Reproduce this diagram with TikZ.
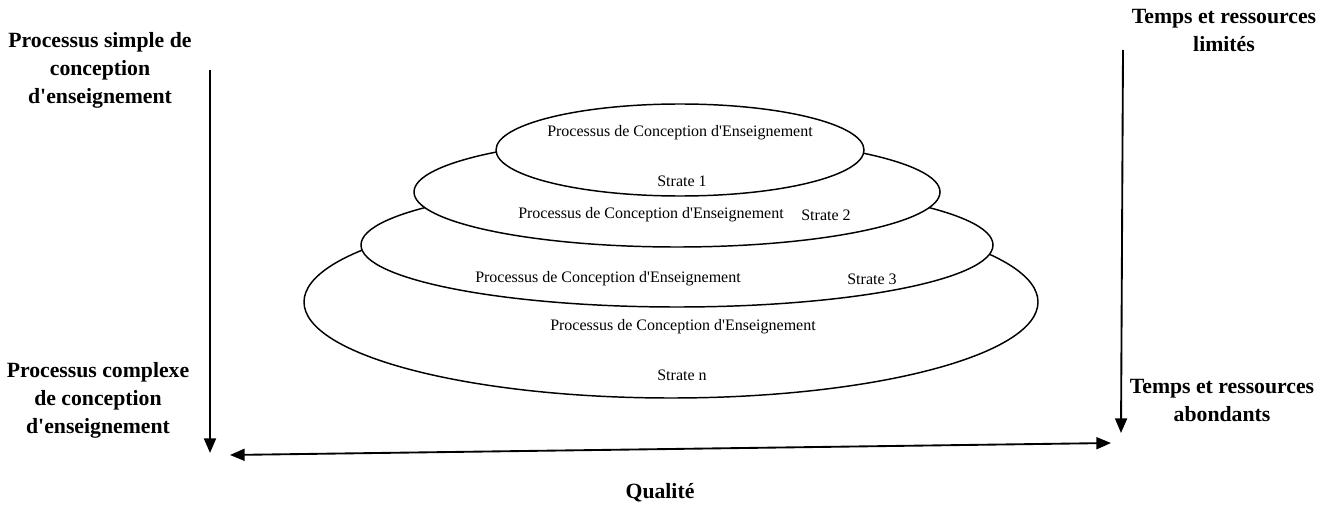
\documentclass[tikz,border=0pt]{standalone}
\usepackage{fontspec}
\setmainfont{Liberation Serif}[Ligatures=TeXOff]
\usetikzlibrary{shapes.geometric,arrows.meta}
\begin{document}
\begin{tikzpicture}[x=0.75pt,y=-0.75pt,
  layer/.style={ellipse,draw,fill=white,line width=1.1pt,inner sep=0pt},
  lbl/.style={font=\fontsize{16.3}{21}\selectfont\bfseries,align=center,inner sep=0pt},
  txt/.style={font=\fontsize{12}{14}\selectfont,inner sep=0pt},
  arr/.style={line width=1.4pt,-{Triangle[length=11pt,width=9pt]}},
  darr/.style={line width=1.4pt,{Triangle[length=11pt,width=9pt]}-{Triangle[length=11pt,width=9pt]}}
]
\useasboundingbox (0,0) rectangle (1335,506);
% layers (largest first)
\node[layer,minimum width=550.5pt,minimum height=144pt] (e4) at (671,302) {};
\node[layer,minimum width=474pt,minimum height=93pt] (e3) at (677,245) {};
\node[layer,minimum width=394.5pt,minimum height=82.5pt] (e2) at (677,192) {};
\node[layer,minimum width=276pt,minimum height=69pt] (e1) at (680,150) {};
% texts
\node[txt] (p1) at (680,133) {Processus de Conception d'Enseignement};
\node[txt] (s1) at (682,181) {Strate 1};
\node[txt] (p2) at (651,215) {Processus de Conception d'Enseignement};
\node[txt] (s2) at (826,215) {Strate 2};
\node[txt] (p3) at (608,279) {Processus de Conception d'Enseignement};
\node[txt] (s3) at (872,279) {Strate 3};
\node[txt] (p4) at (683,327) {Processus de Conception d'Enseignement};
\node[txt] (s4) at (682,375) {Strate n};
% side labels
\node[lbl] (tl) at (100,70) {Processus simple de\\conception\\d'enseignement};
\node[lbl] (bl) at (98,400) {Processus complexe\\de conception\\d'enseignement};
\node[lbl] (tr) at (1224,30) {Temps et ressources\\limités};
\node[lbl] (br) at (1222,400) {Temps et ressources\\abondants};
\node[lbl] (q) at (660,493) {Qualité};
% arrows
\coordinate (la) at (210,70);
\coordinate (lb) at (210,453);
\coordinate (ra) at (1123,50);
\coordinate (rb) at (1121,433);
\coordinate (ha) at (230,455);
\coordinate (hb) at (1111,443);
\draw[arr] (la) -- (lb);
\draw[arr] (ra) -- (rb);
\draw[darr] (ha) -- (hb);
\end{tikzpicture}
\end{document}
